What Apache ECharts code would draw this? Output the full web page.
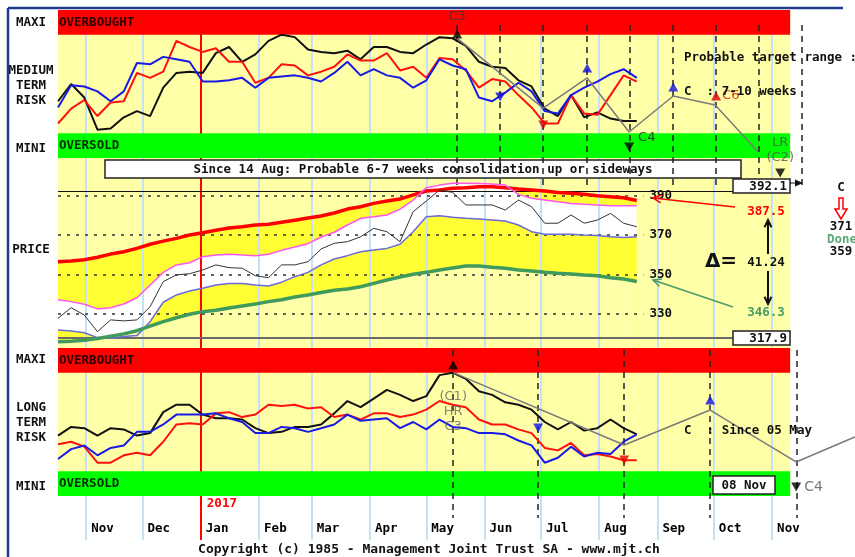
<!DOCTYPE html>
<html>
<head>
<meta charset="utf-8">
<title>MJT risk chart</title>
<script src="https://cdn.jsdelivr.net/npm/echarts@6/dist/echarts.min.js"></script>
<style>html,body{margin:0;padding:0;background:#fff;}</style>
</head>
<body>
<div id="main" style="width:855px;height:557px;"></div>
<script>
// x = days since 1 Nov 2016, weekly samples
var sampleDays = [-15,-8,-1,6,13,20,27,34,41,48,55,62,69,76,83,90,97,104,111,118,125,132,139,
  146,153,160,167,174,181,188,195,202,209,216,223,230,237,244,251,258,265,272,279,286,293];

var monthNames = ['Nov','Dec','Jan','Feb','Mar','Apr','May','Jun','Jul','Aug','Sep','Oct','Nov'];
var monthStartDay = [0,30,61,92,120,151,181,212,242,273,304,334,365];
var yearLabel = '2017', yearStartDay = 61;

// medium term risk (0-20 oversold, 100-120 overbought)
var medBlack = [46,60,49,23,24,33,38,34,57,69,70,69,85,90,78,84,95,100,98,88,86,85,87,
  80,90,90,86,85,92,98,97,91,78,74,73,63,58,40,34,51,33,37,32,30,30];
var medRed = [28,40,47,34,45,46,69,65,70,95,90,86,89,78,78,61,65,76,75,67,70,74,84,
  79,79,85,71,74,65,81,80,71,57,64,62,51,41,28,28,51,36,35,51,67,62];
var medBlue = [41,59,58,54,46,54,77,76,82,80,78,62,62,63,65,57,65,66,67,65,62,69,78,
  67,72,67,65,57,63,80,75,72,49,46,53,61,54,38,36,51,57,62,68,72,65];

// long term risk
var longBlack = [49,56,55,49,55,54,49,51,68,74,74,66,63,63,62,55,51,52,56,56,58,67,77,
  72,79,86,82,77,81,98,100,95,85,82,76,74,70,60,54,60,53,55,62,55,50];
var longRed = [42,44,40,27,27,33,35,33,44,58,59,58,67,68,64,66,74,73,74,71,72,64,66,
  62,67,67,64,66,70,77,74,72,62,58,58,54,51,39,37,43,33,34,32,29,29];
var longBlue = [30,38,41,33,39,41,52,52,58,66,66,66,67,63,60,51,51,56,55,52,55,58,66,
  61,62,63,55,60,54,62,56,55,51,51,50,45,41,27,31,40,32,35,34,44,50];

// price bands
var priceUpper = [356.4,356.8,357.4,358.7,360.3,361.5,363.2,365.3,366.9,368.3,370,371.2,372.4,373.6,374.2,375.1,375.5,376.5,377.5,378.7,379.7,381.2,383.2,
  384.4,386.1,387.3,388.3,390.4,392.4,392.9,393.8,394.1,394.6,394.6,394.1,393.4,392.9,392.4,391.7,391.2,390.7,390,389.5,389,387.6];
var priceInnerUp = [337,336.1,334.8,332.4,333,334.9,338.1,344.6,351,354.8,355.9,359,359.8,360.2,359.8,359.5,360.2,362.2,363.9,365.6,369,371.4,375.1,
  378.5,379.3,380.2,383.2,387.8,394.1,395.4,396.3,396.3,396.2,396,395.4,390.7,388.7,387.8,386.9,386.1,385.6,385.3,384.9,384.9,384.9];
var priceClose = [327.6,333,329.3,320.8,326.8,326.3,326.8,333.5,346.3,349.7,350.3,352.2,354.8,353.4,353.1,349.3,348.3,354.8,354.8,356.4,362.9,365.8,366.6,
  369.1,373.4,371.7,366.6,381.9,387.3,392.9,391.7,385.3,385.3,385.3,382.7,387.8,384.4,376,376,380.2,376,377.6,381,376,374.2];
var priceInnerLow = [321.7,321.2,320.3,317.8,317.5,318.3,318.8,325.9,335.8,339.5,341.5,342.9,344.6,345.3,345.3,344.6,344.1,346,348.8,351,354.8,357.8,359.5,
  361.5,362.4,363.2,365.3,371.7,379.3,379.8,379,378.5,378.1,377.6,377.1,375.1,371.7,370.4,370.4,370.4,370,369.7,369.1,368.8,369.1];
var priceLower = [315.7,315.9,316.4,317.3,318.5,319.7,321.3,323.6,325.9,327.9,329.7,331,331.7,332.9,333.9,334.9,336.1,337.1,338.5,339.5,340.7,341.9,342.5,
  343.7,345.4,347.1,348.6,350,351,352.2,353.2,354.2,354.2,353.6,353.1,352.2,351.7,351,350.5,350.2,349.7,349.3,348.3,347.6,346.3];

var priceTicks = [330, 350, 370, 390];
var priceHigh = 392.1, priceLow = 317.9;

// cycle dates (dashed lines) and projections
var medCycleDays = [197, 220, 243, 266.5, 289, 312, 335, 358, 381];
var longCycleDays = [195, 240.5, 286, 332, 378];
var medProjDays = [197.4, 243.2, 266.6, 288.9, 312.4, 334.7, 357.6];
var medProjVals = [97, 40.5, 64.9, 21.1, 50.3, 43, 4.9];
var longProjDays = [195.3, 286.3, 332, 377.8, 409];
var longProjVals = [100, 41.4, 69.7, 27.6, 47.8];

var medMarkDays = [197.4, 220.3, 243.2, 266.6, 288.9, 312.4, 335.2, 369.3];
var medMarkVals = [100.5, 49.5, 26.8, 73, 8.9, 57.6, 50.3, -12.2];
var medMarkDirs = ['up','down','down','up','down','up','up','down'];
var medMarkColors = ['#000','#1010e0','#e00000','#1010e0','#000','#1010e0','#e00000','#000'];
var medMarkLabels = ['C3','','','','C4','','C6','LR\n(C2)'];

var longMarkDays = [195.3, 240.5, 286.3, 332, 377.8];
var longMarkVals = [106.2, 55.1, 29.2, 77.8, 7.3];
var longMarkDirs = ['up','down','down','up','down'];
var longMarkColors = ['#000','#1010e0','#e00000','#1010e0','#000'];
var longMarkLabels = ['(C1)\nHR\nC3','','','','C4'];

var X_MIN = -15, X_MAX = 409.1, X_END = 374.6, DATA_END = 296.5, BOX_DAY = 344.3;
var MONO = 'DejaVu Sans Mono';
var MF = 'bold 12.5px "DejaVu Sans Mono"';
var LIGHT = '#ffffa8';

var myChart = echarts.init(document.getElementById('main'));

function pairs(vals) {
  return sampleDays.map(function (d, i) { return [d, vals[i]]; });
}
function zip(xs, ys) {
  return xs.map(function (x, i) { return [x, ys[i]]; });
}
var UP = 'path://M5,0L10,9L0,9Z';
var DOWN = 'path://M0,0L10,0L5,9Z';
function markers(days, vals, dirs, colors, labels, styles) {
  return days.map(function (d, i) {
    var it = { value: [d, vals[i]], symbol: dirs[i] === 'up' ? UP : DOWN, itemStyle: { color: colors[i] } };
    if (labels[i]) {
      it.label = Object.assign({ show: true, formatter: labels[i], fontFamily: 'DejaVu Sans', fontSize: 13 }, styles[i] || {});
    }
    return it;
  });
}
function line(name, vals, color, width, idx) {
  return { name: name, type: 'line', xAxisIndex: idx, yAxisIndex: idx, data: pairs(vals), symbol: 'none',
    lineStyle: { color: color, width: width }, z: 6, silent: true };
}
function fill(vals, color) {
  return { type: 'line', xAxisIndex: 2, yAxisIndex: 2, data: pairs(vals), symbol: 'none',
    lineStyle: { width: 0 }, areaStyle: { color: color, opacity: 1, origin: 'start' }, z: 2, silent: true };
}
function band(name, y0, y1, color, textColor) {
  return [{ name: name, coord: [X_MIN, y0], itemStyle: { color: color },
    label: { show: true, position: 'insideLeft', distance: 1, color: textColor, fontFamily: MONO, fontWeight: 'bold', fontSize: 12.5 } },
    { coord: [X_END, y1] }];
}
function txt(x, y, s, fill, font, align) {
  return { type: 'text', z: 20, silent: true,
    style: { text: s, x: x, y: y, fill: fill || '#111', font: font || MF, align: align || 'left', verticalAlign: 'middle' } };
}
function seg(pts, color, w, z) {
  return { type: 'polyline', z: z || 20, silent: true, shape: { points: pts }, style: { stroke: color, lineWidth: w || 1.5, fill: null } };
}
function arrow(x1, y1, x2, y2, color, w, head) {
  var a = Math.atan2(y2 - y1, x2 - x1), h = head || 8;
  return [seg([[x1, y1], [x2, y2]], color, w),
    seg([[x2 - h * Math.cos(a - 0.45), y2 - h * Math.sin(a - 0.45)], [x2, y2],
         [x2 - h * Math.cos(a + 0.45), y2 - h * Math.sin(a + 0.45)]], color, w)];
}
function box(x, y, w, h, z) {
  return { type: 'rect', z: z || 20, silent: true, shape: { x: x, y: y, width: w, height: h },
    style: { fill: '#fff', stroke: '#222', lineWidth: 1.5 } };
}

var xAxes = [0, 1, 2, 3].map(function (i) {
  return { type: 'value', gridIndex: i, min: X_MIN, max: X_MAX, show: false };
});
var yAxes = [
  { type: 'value', gridIndex: 0, min: 0, max: 530, inverse: true, show: false },
  { type: 'value', gridIndex: 1, min: 0, max: 120, show: false },
  { type: 'value', gridIndex: 2, min: 312.5, max: 409.2, show: false },
  { type: 'value', gridIndex: 3, min: 0, max: 120, show: false }
];

var dashV = [];
medCycleDays.forEach(function (d) { dashV.push([{ coord: [d, 15] }, { coord: [d, 176] }]); });
longCycleDays.forEach(function (d) { dashV.push([{ coord: [d, 340] }, { coord: [d, 508] }]); });

var monthLines = monthStartDay.map(function (d) { return { xAxis: d }; });
monthLines.push({ xAxis: yearStartDay, lineStyle: { color: '#ff0000', width: 2 } });

var series = [
  // background
  { type: 'line', xAxisIndex: 0, yAxisIndex: 0, data: [], silent: true,
    markArea: { z: 1, silent: true, itemStyle: { color: LIGHT },
      data: [[{ coord: [X_MIN, 0] }, { coord: [X_END, 486] }]] } },
  // price fills
  fill(priceUpper, '#ffff33'),
  fill(priceInnerUp, '#ffffff'),
  fill(priceInnerLow, '#ffff33'),
  fill(priceLower, LIGHT),
  // month separators
  { type: 'line', xAxisIndex: 0, yAxisIndex: 0, data: [], silent: true,
    markLine: { z: 3, silent: true, symbol: ['none', 'none'], label: { show: false },
      lineStyle: { color: '#c4e2f6', width: 2, type: 'solid' }, data: monthLines } },
  // risk bands
  { type: 'line', xAxisIndex: 1, yAxisIndex: 1, data: [], silent: true,
    markArea: { z: 4, silent: true, data: [band('OVERBOUGHT', 100, 120, '#ff0000', '#2a0000'), band('OVERSOLD', 0, 20, '#00ff00', '#002a00')] } },
  { type: 'line', xAxisIndex: 3, yAxisIndex: 3, data: [], silent: true,
    markArea: { z: 4, silent: true, data: [band('OVERBOUGHT', 100, 120, '#ff0000', '#2a0000'), band('OVERSOLD', 0, 20, '#00ff00', '#002a00')] } },
  // dashed cycle lines
  { type: 'line', xAxisIndex: 0, yAxisIndex: 0, data: [], silent: true,
    markLine: { z: 5, silent: true, symbol: ['none', 'none'], label: { show: false },
      lineStyle: { color: '#222', width: 1.5, type: [6, 5] }, data: dashV } },
  // price levels
  { type: 'line', xAxisIndex: 2, yAxisIndex: 2, data: [], silent: true,
    markLine: { z: 5, silent: true, symbol: ['none', 'none'],
      data: priceTicks.map(function (p) {
        return [{ name: String(p), coord: [X_MIN, p] }, { name: String(p), coord: [DATA_END, p] }];
      }).concat([
        [{ coord: [X_MIN, priceHigh], lineStyle: { color: '#111', width: 1, type: 'solid' }, label: { show: false } }, { coord: [BOX_DAY, priceHigh] }],
        [{ coord: [X_MIN, priceLow], lineStyle: { color: '#6a6a6a', width: 2, type: 'solid' }, label: { show: false } }, { coord: [BOX_DAY, priceLow] }]
      ]),
      lineStyle: { color: '#333', width: 1.5, type: [3, 6] },
      label: { show: true, position: 'end', distance: 6, formatter: '{b}', color: '#111', fontFamily: MONO, fontWeight: 'bold', fontSize: 12.5 } } },
  // risk lines
  line('medBlack', medBlack, '#111', 2, 1),
  line('medRed', medRed, '#ff1010', 2, 1),
  line('medBlue', medBlue, '#1a1ae6', 2, 1),
  line('longBlack', longBlack, '#111', 2, 3),
  line('longRed', longRed, '#ff1010', 2, 3),
  line('longBlue', longBlue, '#1a1ae6', 2, 3),
  // price lines
  line('upper', priceUpper, '#ff0000', 3.5, 2),
  line('innerUp', priceInnerUp, '#ff55ee', 1.5, 2),
  line('innerLow', priceInnerLow, '#6a6ad8', 1.5, 2),
  line('lower', priceLower, '#3f9a5c', 3.5, 2),
  line('close', priceClose, '#333', 1, 2),
  // projections
  { type: 'line', xAxisIndex: 1, yAxisIndex: 1, data: zip(medProjDays, medProjVals), symbol: 'none',
    lineStyle: { color: '#7a7a7a', width: 1.5 }, z: 6, silent: true },
  { type: 'line', xAxisIndex: 3, yAxisIndex: 3, data: zip(longProjDays, longProjVals), symbol: 'none',
    lineStyle: { color: '#7a7a7a', width: 1.5 }, z: 6, silent: true },
  // turning point markers
  { type: 'scatter', xAxisIndex: 1, yAxisIndex: 1, clip: false, z: 7, silent: true, symbolSize: [10, 9],
    data: markers(medMarkDays, medMarkVals, medMarkDirs, medMarkColors, medMarkLabels, [
      { position: 'top', distance: 6, color: '#333' }, null, null, null,
      { position: 'right', distance: 4, offset: [0, -9], color: '#222' }, null,
      { position: 'right', distance: 1, color: '#e00000' },
      { position: 'top', distance: 3, color: '#555', lineHeight: 15, align: 'center' }]) },
  { type: 'scatter', xAxisIndex: 3, yAxisIndex: 3, clip: false, z: 7, silent: true, symbolSize: [10, 9],
    data: markers(longMarkDays, longMarkVals, longMarkDirs, longMarkColors, longMarkLabels, [
      { position: 'bottom', distance: 20, color: '#666', lineHeight: 15, align: 'center' }, null, null, null,
      { position: 'right', distance: 3, color: '#555', fontSize: 14 }]) }
];

var g = [
  seg([[8, 8], [843, 8]], '#1f3c8f', 2.5),
  seg([[8, 8], [8, 557]], '#1f3c8f', 2.5),
  txt(31, 23, 'MAXI', null, null, 'center'),
  txt(31, 71, 'MEDIUM', null, null, 'center'),
  txt(31, 86, 'TERM', null, null, 'center'),
  txt(31, 101, 'RISK', null, null, 'center'),
  txt(31, 149, 'MINI', null, null, 'center'),
  txt(31, 250, 'PRICE', null, null, 'center'),
  txt(31, 360, 'MAXI', null, null, 'center'),
  txt(31, 408, 'LONG', null, null, 'center'),
  txt(31, 423, 'TERM', null, null, 'center'),
  txt(31, 438, 'RISK', null, null, 'center'),
  txt(31, 487, 'MINI', null, null, 'center'),
  box(105, 160, 636, 18, 4.5),
  Object.assign(txt(423, 169.5, 'Since 14 Aug: Probable 6-7 weeks consolidation up or sideways', null, null, 'center'), { z: 4.6 }),
  txt(684, 58, 'Probable target range :'),
  txt(684, 92, 'C  : 7-10 weeks'),
  txt(684, 431, 'C  : Since 05 May'),
  box(713, 476, 62, 18),
  txt(744, 485.5, '08 Nov', null, null, 'center'),
  box(733, 179, 57, 14),
  txt(787, 186.5, '392.1', null, null, 'right'),
  box(733, 331, 57, 14),
  txt(787, 338.5, '317.9', null, null, 'right'),
  seg([[790, 183], [797, 183]], '#111', 1),
  { type: 'polygon', z: 20, silent: true, shape: { points: [[795, 179.5], [803, 183], [795, 186.5]] }, style: { fill: '#111' } },
  txt(766, 212, '387.5', '#ff0000', null, 'center'),
  txt(766, 313, '346.3', '#4a9a6a', null, 'center'),
  txt(721, 262, '\u0394=', '#111', 'bold 20px "DejaVu Sans"', 'center'),
  txt(766, 262.5, '41.24', null, null, 'center'),
  txt(841, 188, 'C', null, null, 'center'),
  { type: 'polygon', z: 20, silent: true,
    shape: { points: [[839, 198], [843, 198], [843, 209], [847, 209], [841, 219], [835, 209], [839, 209]] },
    style: { fill: '#fff', stroke: '#ff0000', lineWidth: 1.5 } },
  txt(841, 227, '371', null, null, 'center'),
  txt(827, 240, 'Done', '#5aa878'),
  txt(841, 252, '359', null, null, 'center'),
  txt(429, 550, 'Copyright (c) 1985 - Management Joint Trust SA - www.mjt.ch', null, 'bold 13px "DejaVu Sans Mono"', 'center')
].concat(arrow(735, 207, 653, 198, '#ff0000', 1.5, 9))
 .concat(arrow(733, 307, 653, 280, '#4a9a6a', 1.5, 9))
 .concat(arrow(768, 254, 768, 220, '#111', 2, 8))
 .concat(arrow(768, 271, 768, 304, '#111', 2, 8));

var option = {
  animation: false,
  backgroundColor: '#ffffff',
  grid: [
    { left: 58, top: 10, width: 797, height: 530 },
    { left: 58, top: 10, width: 797, height: 148 },
    { left: 58, top: 158, width: 797, height: 190 },
    { left: 58, top: 348, width: 797, height: 148 }
  ],
  xAxis: xAxes,
  yAxis: yAxes,
  series: series,
  graphic: g
};

myChart.setOption(option);

// month and year labels placed through the x axis scale
monthStartDay.forEach(function (d, i) {
  var px = myChart.convertToPixel({ xAxisIndex: 0, yAxisIndex: 0 }, [d, 519]);
  g.push(txt(px[0] + 5, px[1], monthNames[i], '#000'));
});
var yp = myChart.convertToPixel({ xAxisIndex: 0, yAxisIndex: 0 }, [yearStartDay, 494]);
g.push(txt(yp[0] + 6, yp[1], yearLabel, '#ff0000'));
myChart.setOption({ graphic: g });
</script>
</body>
</html>
